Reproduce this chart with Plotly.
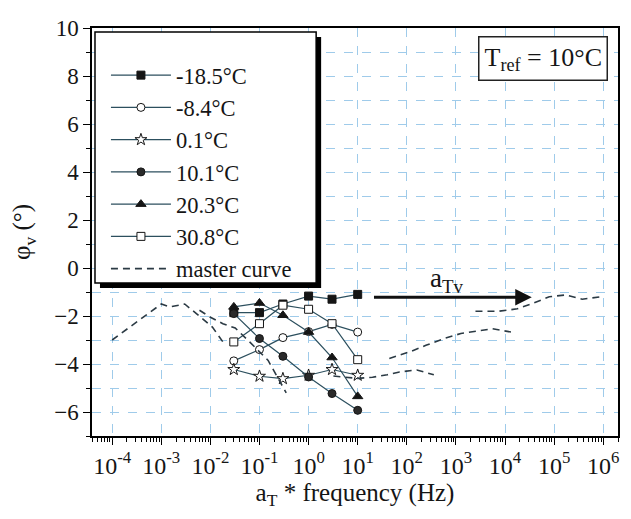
import math
import plotly.graph_objects as go

# ---- data ----
freq = [0.03, 0.1, 0.3, 1, 3, 10]
series_names = ["-18.5°C", "-8.4°C", "0.1°C", "10.1°C", "20.3°C", "30.8°C"]
phi_m18_5 = [-1.86, -1.86, -1.5, -1.17, -1.3, -1.1]
phi_m8_4 = [-3.87, -3.4, -2.9, -2.65, -2.35, -2.67]
phi_0_1 = [-4.23, -4.51, -4.61, -4.47, -4.23, -4.47]
phi_10_1 = [-1.9, -2.94, -3.68, -4.54, -5.23, -5.93]
phi_20_3 = [-1.62, -1.46, -1.97, -2.67, -3.73, -5.35]
phi_30_8 = [-3.08, -2.32, -1.55, -1.72, -2.32, -3.82]

master_x = [1e-4, 2.3e-4, 5.4e-4, 1e-3, 1.5e-3, 3e-3, 5.2e-3, 1.1e-2, 1.8e-2, None,
            6.0e-3, 9.8e-3, 1.8e-2, 3.2e-2, 6.3e-2, 0.15, 0.35, None,
            3.2, 10, 20, 40, 71, 160, 355, None,
            44, 123, 245, 575, 1259, 2570, 5500, 13200, None,
            2500, 7600, 17800, 36300, 79400, 174000, 372000, 891000]
master_y = [-3.0, -2.46, -1.9, -1.5, -1.62, -1.5, -1.9, -2.46, -3.08, None,
            -1.76, -2.04, -2.32, -2.5, -3.08, -3.85, -5.2, None,
            -4.5, -4.6, -4.55, -4.45, -4.33, -4.25, -4.45, None,
            -3.77, -3.47, -3.22, -2.94, -2.73, -2.62, -2.53, -2.67, None,
            -1.8, -1.8, -1.7, -1.48, -1.2, -1.12, -1.3, -1.2]

x_tickvals = [1e-4, 1e-3, 1e-2, 1e-1, 1, 10, 1e2, 1e3, 1e4, 1e5, 1e6]
x_ticktext = ["10<sup>-4</sup>", "10<sup>-3</sup>", "10<sup>-2</sup>", "10<sup>-1</sup>",
              "10<sup>0</sup>", "10<sup>1</sup>", "10<sup>2</sup>", "10<sup>3</sup>",
              "10<sup>4</sup>", "10<sup>5</sup>", "10<sup>6</sup>"]

arrow_tail_freq = 20
arrow_head_freq = 3.5e4
arrow_phi = -1.22

FONT = "Liberation Serif"
LINE_C = "#2c4f5e"
INK = "#151515"

series_vals = [phi_m18_5, phi_m8_4, phi_0_1, phi_10_1, phi_20_3, phi_30_8]
markers = [
    dict(symbol="square", size=8, color=INK, line=dict(color=INK, width=1)),
    dict(symbol="circle", size=8, color="white", line=dict(color=INK, width=1)),
    dict(symbol="star", size=9, color="white", line=dict(color=INK, width=1)),
    dict(symbol="circle", size=8, color="#2a2a2a", line=dict(color=INK, width=1)),
    dict(symbol="triangle-up", size=9, color=INK, line=dict(color=INK, width=1)),
    dict(symbol="square", size=8, color="white", line=dict(color=INK, width=1)),
]

fig = go.Figure()
for name, vals, mk in zip(series_names, series_vals, markers):
    fig.add_trace(go.Scatter(x=freq, y=vals, name=name, mode="lines+markers",
                             line=dict(color=LINE_C, width=1.2), marker=mk))
fig.add_trace(go.Scatter(x=master_x, y=master_y, name="master curve", mode="lines",
                         line=dict(color="#2b3a44", width=1.6, dash="7px,5px"),
                         connectgaps=False))

# plot area in pixels: x 92..620, y 28..436
def px(xp):
    return (xp - 92) / 528.0
def py(yp):
    return (436 - yp) / 408.0

shapes = [
    dict(type="rect", xref="paper", yref="paper", x0=px(100), x1=px(322), y0=py(288), y1=py(37),
         fillcolor="black", line=dict(width=0), layer="above"),
    dict(type="rect", xref="paper", yref="paper", x0=px(95), x1=px(317), y0=py(283), y1=py(32),
         fillcolor="white", line=dict(color="black", width=1.5), layer="above"),
]

annotations = [
    dict(x=math.log10(arrow_head_freq), y=arrow_phi,
         ax=math.log10(arrow_tail_freq), ay=arrow_phi,
         xref="x", yref="y", axref="x", ayref="y", text="", showarrow=True,
         arrowhead=2, arrowsize=1.1, arrowwidth=3, arrowcolor="#111"),
    dict(x=2.82, y=-0.5, xref="x", yref="y", text="a<sub>Tv</sub>", showarrow=False,
         font=dict(family=FONT, size=27, color=INK)),
    dict(x=px(545), y=py(59), xref="paper", yref="paper", xanchor="center", yanchor="middle",
         text="T<sub>ref</sub> = 10°C", showarrow=False, bgcolor="white",
         bordercolor="#222", borderwidth=1.5, borderpad=5,
         font=dict(family=FONT, size=26, color=INK)),
]

grid_c = "#9fcbea"
fig.update_layout(
    width=631, height=519,
    margin=dict(l=92, r=11, t=28, b=83),
    paper_bgcolor="white", plot_bgcolor="white",
    font=dict(family=FONT, size=23, color=INK),
    shapes=shapes, annotations=annotations,
    legend=dict(x=px(106), y=py(54), xanchor="left", yanchor="top",
                bgcolor="rgba(0,0,0,0)", borderwidth=0, itemwidth=60,
                font=dict(family=FONT, size=22.5, color=INK), tracegroupgap=0),
    xaxis=dict(type="log", range=[-4.41, 6.3], tickvals=x_tickvals, ticktext=x_ticktext,
               ticks="outside", ticklen=7, tickwidth=1.2, tickcolor="black",
               showline=True, linecolor="black", linewidth=1.5, mirror=True,
               showgrid=True, gridcolor=grid_c, griddash="dash", gridwidth=1,
               zeroline=False,
               minor=dict(ticks="outside", ticklen=4, tickcolor="black", dtick="D1", showgrid=False),
               title=dict(text="a<sub>T</sub> * frequency (Hz)", font=dict(size=25), standoff=6),
               tickfont=dict(size=24)),
    yaxis=dict(range=[-7, 10], dtick=2, tick0=0,
               ticks="outside", ticklen=7, tickwidth=1.2, tickcolor="black",
               showline=True, linecolor="black", linewidth=1.5, mirror=True,
               showgrid=True, gridcolor=grid_c, griddash="dash", gridwidth=1,
               zeroline=False,
               minor=dict(ticks="outside", ticklen=4, tickcolor="black", dtick=1,
                          showgrid=True, gridcolor=grid_c, griddash="dash", gridwidth=1),
               title=dict(text="φ<sub>v</sub> (°)", font=dict(size=25), standoff=16),
               tickfont=dict(size=23)),
)

fig.write_html("out.html")
